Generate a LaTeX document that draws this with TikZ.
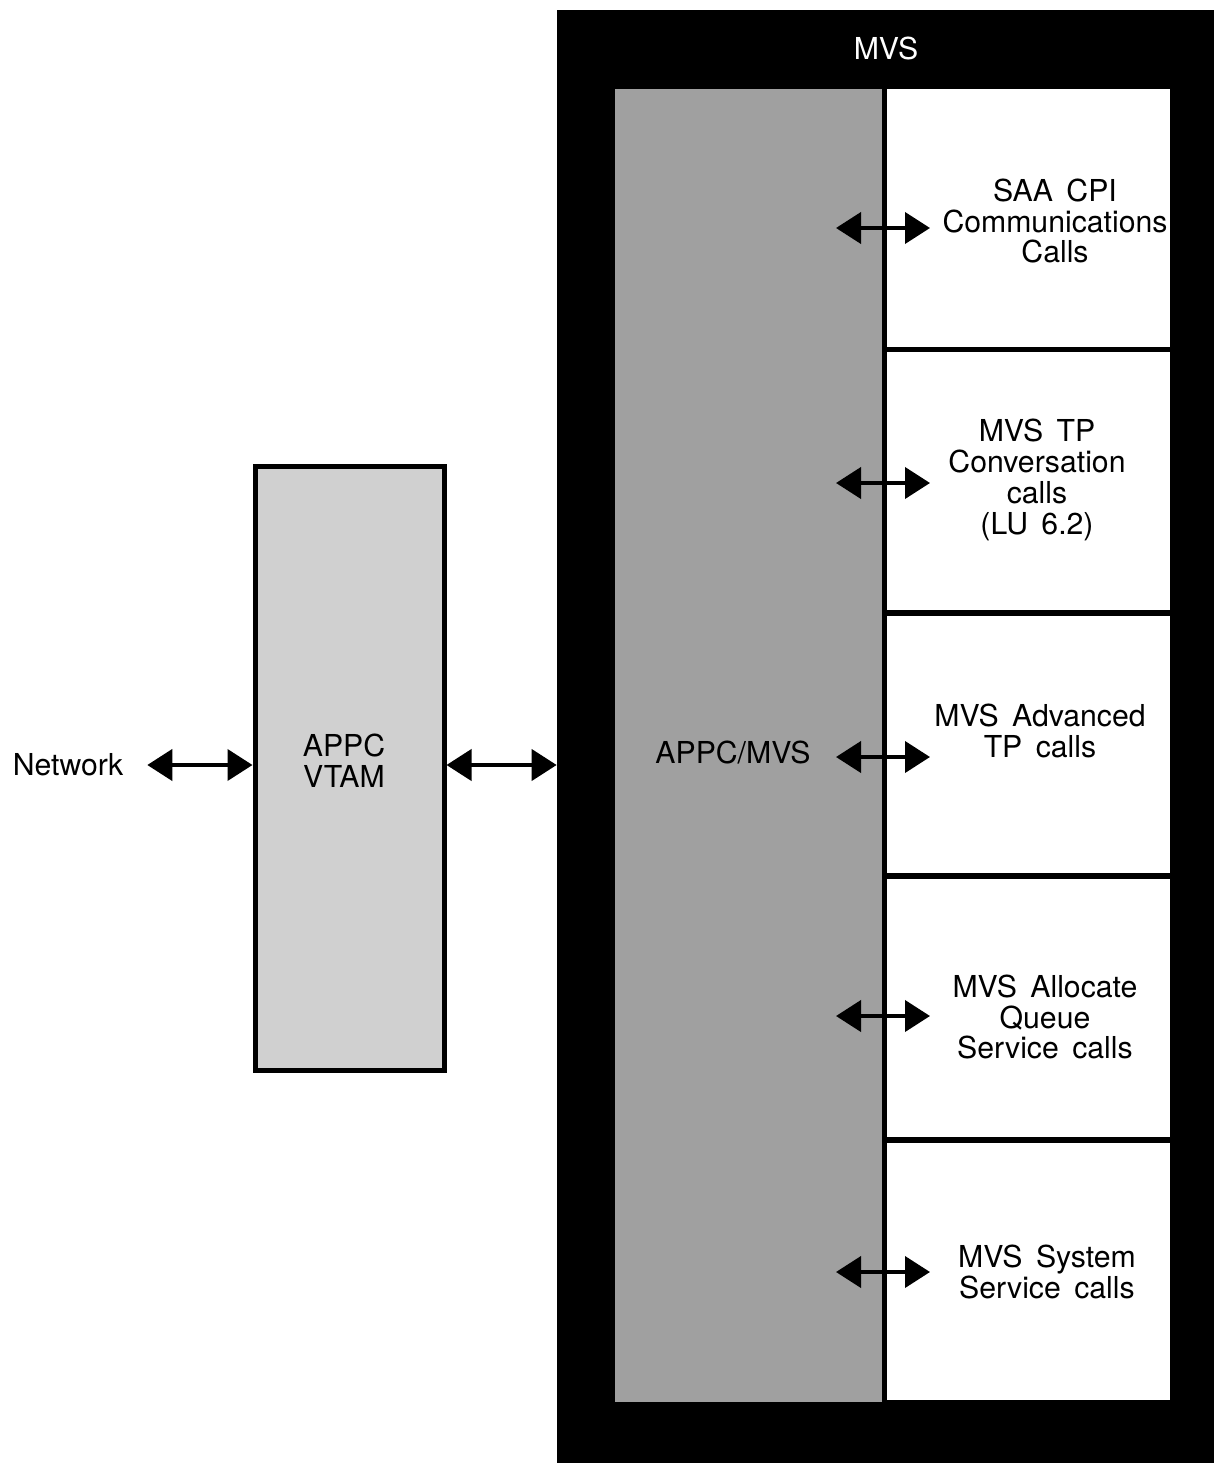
\documentclass[tikz,border=0pt]{standalone}
\usepackage{fontspec}
\setmainfont{TeX Gyre Heros}[WordSpace=1.6]
\usetikzlibrary{arrows.meta,positioning,fit}
\definecolor{ink}{HTML}{000000}
\definecolor{vtamc}{HTML}{D0D0D0}
\definecolor{apic}{HTML}{A0A0A0}
\tikzset{
  lbl/.style={font=\fontsize{17.2pt}{17.6pt}\selectfont,align=center,inner sep=1pt},
  panel/.style={rectangle,inner sep=0pt},
  blk/.style={panel,draw=ink,line width=0.1cm,fill=vtamc},
  dbl/.style={ink,line width=0.08cm,{Triangle[length=0.5cm,width=0.62cm]}-{Triangle[length=0.5cm,width=0.62cm]}},
}

\begin{document}
\begin{tikzpicture}[x=0.02cm,y=-0.02cm]
  \useasboundingbox (0,0) rectangle (1214,1463);
  % ---------- MVS frame ----------
  \node[panel,fill=ink,fit={(557,10) (1214,1463)}] (mvs) {};
  \node[lbl,text=white] (mvst) at (886,48) {MVS};
  \node[panel,fill=apic,fit={(615,89) (882,1402)}] (api) {};
  \node[lbl] (apit) at (733,753) {APPC/MVS};
  % ---------- call boxes ----------
  \foreach \i in {1,...,5} {
    \pgfmathsetmacro{\ytop}{89+(\i-1)*263.4}
    \node[panel,fill=white,fit={(887,\ytop) (1170,\ytop+257.5)}] (call\i) {};
  }
  \node[lbl] (t1) at (1055,221) {SAA CPI\\Communications\\Calls};
  \node[lbl] (t2) at (1037,480) {MVS TP\\Conversation\\calls\\(LU 6.2)};
  \node[lbl] (t3) at (1040,731) {MVS Advanced\\TP calls};
  \node[lbl] (t4) at (1045,1017) {MVS Allocate\\Queue\\Service calls};
  \node[lbl] (t5) at (1047,1272) {MVS System\\Service calls};
  \foreach \y [count=\i] in {228,483,757,1016,1272} {
    \coordinate (a\i) at (836,\y);
    \coordinate (b\i) at (930,\y);
    \draw[dbl] (a\i) -- (b\i);
  }
  % ---------- VTAM and network ----------
  \node[blk,fit={(255,466) (444,1070)}] (vtam) {};
  \node[lbl] (vtamt) at (344,761) {APPC\\VTAM};
  \node[lbl] (net) at (68,765) {Network};
  \draw[dbl,shorten <=0.44cm] (net.east) -- (net.east -| vtam.west);
  \draw[dbl] (net.east -| vtam.east) -- (net.east -| mvs.west);
\end{tikzpicture}
\end{document}
